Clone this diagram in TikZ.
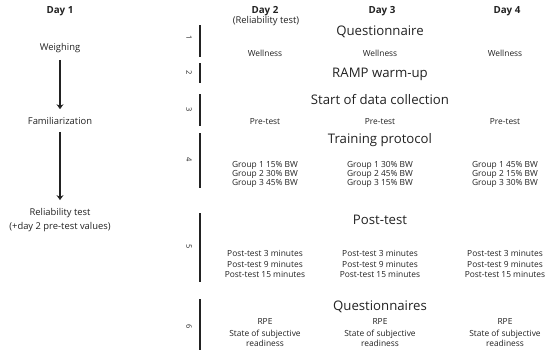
\documentclass[tikz,border=0pt]{standalone}
\usepackage{fontspec}
\setmainfont{Open Sans}
\usepackage{xcolor}
\usetikzlibrary{positioning, arrows.meta}
\definecolor{myInk}{HTML}{222222}

\begin{document}
\begin{tikzpicture}[x=1pt, y=-1pt,
  dayhead/.style={font=\fontsize{9.8}{10}\selectfont\bfseries, text=myInk, inner sep=0pt},
  phase/.style={font=\fontsize{13.2}{14}\selectfont, text=myInk, inner sep=0pt},
  detail/.style={font=\fontsize{8.4}{10}\selectfont, text=myInk, inner sep=0pt, align=center},
  daytext/.style={font=\fontsize{9.4}{14}\selectfont, text=myInk, inner sep=0pt, align=center},
  num/.style={font=\fontsize{7.5}{7.5}\selectfont, text=myInk, rotate=-90, inner sep=0pt},
  bar/.style={line width=2pt, myInk},
  flow/.style={line width=1.8pt, myInk, -{Stealth[length=5pt, width=7pt]}},
]
  \useasboundingbox (0,0) rectangle (550,354);

  % day headers
  \node[dayhead] (d1) at (60,11) {Day 1};
  \node[dayhead] (d2) at (265,11) {Day 2};
  \node[detail, font=\fontsize{9.4}{10}\selectfont] (d2note) at (266,21) {(Reliability test)};
  \node[dayhead] (d3) at (382,11) {Day 3};
  \node[dayhead] (d4) at (507,11) {Day 4};

  % day 1
  \node[daytext] (weigh) at (60,48) {Weighing};
  \node[daytext] (famil) at (60,121) {Familiarization};
  \node[daytext] (relia) at (60,220) {Reliability test\\(+day 2 pre-test values)};
  \draw[flow, shorten <=7pt, shorten >=8pt] (weigh) -- (famil);
  \draw[flow, shorten <=7pt, shorten >=8pt] (famil) -- (relia);

  % phase bars and numbers
  \draw[bar] (200,25) -- (200,57);
  \draw[bar] (200,63) -- (200,83);
  \draw[bar] (200,94) -- (200,126);
  \draw[bar] (200,133) -- (200,188);
  \draw[bar] (200,213) -- (200,282);
  \draw[bar] (200,299) -- (200,350);
  \node[num] (n1) at (189,38) {1};
  \node[num] (n2) at (189,73) {2};
  \node[num] (n3) at (189,110) {3};
  \node[num] (n4) at (189,160) {4};
  \node[num] (n5) at (189,247) {5};
  \node[num] (n6) at (189,327) {6};

  % phase titles
  \node[phase] (quest) at (380,32) {Questionnaire};
  \node[phase] (ramp) at (380,74) {RAMP warm-up};
  \node[phase] (start) at (380,100) {Start of data collection};
  \node[phase] (train) at (380,140) {Training protocol};
  \node[phase] (post) at (380,220) {Post-test};
  \node[phase] (quests) at (380,307) {Questionnaires};

  % wellness
  \node[detail] (well2) at (265,53) {Wellness};
  \node[detail] (well3) at (380,53) {Wellness};
  \node[detail] (well4) at (505,53) {Wellness};

  % pre-test
  \node[detail] (pre2) at (265,122) {Pre-test};
  \node[detail] (pre3) at (380,122) {Pre-test};
  \node[detail] (pre4) at (505,122) {Pre-test};

  % groups
  \node[detail, anchor=north] (grp2) at (265,161) {Group 1 15\% BW\\[-0.8pt]Group 2 30\% BW\\[-0.8pt]Group 3 45\% BW};
  \node[detail, anchor=north] (grp3) at (380,161) {Group 1 30\% BW\\[-0.8pt]Group 2 45\% BW\\[-0.8pt]Group 3 15\% BW};
  \node[detail, anchor=north] (grp4) at (505,161) {Group 1 45\% BW\\[-0.8pt]Group 2 15\% BW\\[-0.8pt]Group 3 30\% BW};

  % post-test times
  \node[detail, anchor=north] (pt2) at (265,250) {Post-test 3 minutes\\[0.8pt]Post-test 9 minutes\\[0.8pt]Post-test 15 minutes};
  \node[detail, anchor=north] (pt3) at (380,250) {Post-test 3 minutes\\[0.8pt]Post-test 9 minutes\\[0.8pt]Post-test 15 minutes};
  \node[detail, anchor=north] (pt4) at (505,250) {Post-test 3 minutes\\[0.8pt]Post-test 9 minutes\\[0.8pt]Post-test 15 minutes};

  % rpe and readiness
  \node[detail, anchor=north] (rpe2) at (265,318) {RPE\\[2.5pt]State of subjective\\readiness};
  \node[detail, anchor=north] (rpe3) at (380,318) {RPE\\[2.5pt]State of subjective\\readiness};
  \node[detail, anchor=north] (rpe4) at (505,318) {RPE\\[2.5pt]State of subjective\\readiness};
\end{tikzpicture}
\end{document}
